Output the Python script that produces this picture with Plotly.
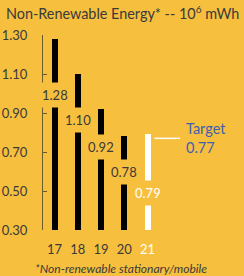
import plotly.graph_objects as go

# ---- data ----
years = ["17", "18", "19", "20", "21"]
values = [1.28, 1.10, 0.92, 0.78, 0.79]
label_y = [0.99, 0.864, 0.726, 0.597, 0.49]
target_value = 0.77
y_ticks = [0.30, 0.50, 0.70, 0.90, 1.10, 1.30]

# ---- style ----
BG = "#F6BF3E"
DARK = "#3a3a3a"
AXIS = "#6b5a2a"
BLUE = "#3F5FAF"
FONT = "Lato, 'Open Sans', sans-serif"
bar_colors = ["#000000"] * 4 + ["#FFFFFF"]
text_colors = [DARK] * 4 + ["#FFFFFF"]

W, H = 244, 276
ML, MT, MB = 43, 35, 46
x_range = [-0.5, 5.7]
plot_w = 144.5
plot_h = H - MT - MB
MR = W - ML - plot_w

xs = list(range(len(years)))

fig = go.Figure()
fig.add_trace(go.Bar(
    x=xs, y=values, marker=dict(color=bar_colors, line=dict(width=0)),
    width=0.26, hoverinfo="skip", showlegend=False,
))

# data labels with background gap
for i, (v, ly) in enumerate(zip(values, label_y)):
    fig.add_annotation(
        x=i, y=ly, xref="x", yref="y", text=f"{v:.2f}", showarrow=False,
        font=dict(family=FONT, size=13, color=text_colors[i]),
        bgcolor=BG, borderpad=4, xanchor="center", yanchor="middle",
    )

# target line and text
fig.add_shape(type="line", xref="x", yref="y",
              x0=len(years) - 1 + 0.3, x1=len(years) - 1 + 1.4,
              y0=target_value, y1=target_value,
              line=dict(color="#FFFFFF", width=1.5))
fig.add_annotation(
    x=len(years) - 1 + 1.55, y=target_value, xref="x", yref="y",
    text=f"Target<br>{target_value:.2f}", showarrow=False, align="left",
    xanchor="left", yanchor="middle",
    font=dict(family=FONT, size=14.5, color=BLUE),
)

# footnote
fig.add_annotation(
    x=(121 - ML) / plot_w, y=-(268 - (H - MB)) / plot_h,
    xref="paper", yref="paper",
    text="<i>*Non-renewable stationary/mobile</i>", showarrow=False,
    xanchor="center", yanchor="middle",
    font=dict(family=FONT, size=12, color=DARK),
)

ticktext = [f"<span style='color:{c}'>{y}</span>" for y, c in zip(years, text_colors)]

fig.update_layout(
    width=W, height=H, paper_bgcolor=BG, plot_bgcolor=BG,
    margin=dict(l=ML, r=MR, t=MT, b=MB, pad=0, autoexpand=False),
    font=dict(family=FONT, color=DARK),
    title=dict(text="Non-Renewable Energy* -- 10<sup>6</sup> mWh",
               x=6 / W, xref="container", xanchor="left",
               y=1 - 14 / H, yref="container", yanchor="middle",
               font=dict(family=FONT, size=14.4, color=DARK)),
    bargap=0,
    xaxis=dict(range=x_range, tickmode="array", tickvals=xs, ticktext=ticktext,
               showgrid=False, zeroline=False, showline=False, ticks="",
               automargin=False,
               ticklabelstandoff=10, tickfont=dict(size=13, family=FONT, color=DARK),
               fixedrange=True),
    yaxis=dict(range=[0.30, 1.30], tickvals=y_ticks,
               ticktext=[f"{t:.2f}" for t in y_ticks], automargin=False,
               showgrid=False, zeroline=False, showline=True, linecolor=AXIS,
               linewidth=1, ticks="inside", ticklen=4, tickcolor=AXIS,
               ticklabelstandoff=12, tickfont=dict(size=13, family=FONT, color=DARK),
               fixedrange=True),
)

fig.write_html("out.html", config={"displayModeBar": False},
               post_script="document.body.style.margin='0';document.body.style.overflow='hidden';")
